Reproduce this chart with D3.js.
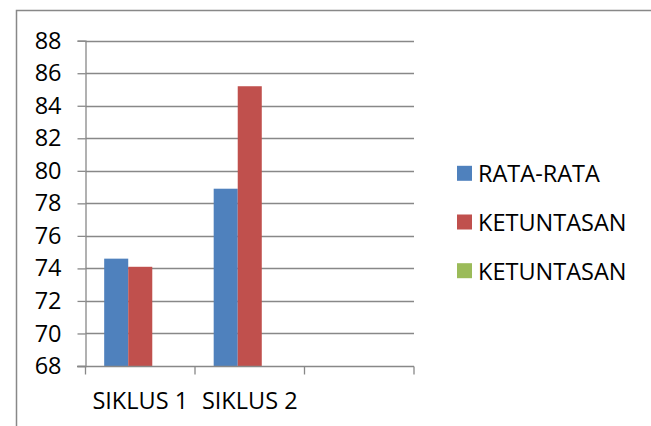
<!DOCTYPE html>
<html>
<head>
<meta charset="utf-8">
<script src="https://cdn.jsdelivr.net/npm/d3@7"></script>
<style>
  body { margin: 0; background: #fff; }
  svg { display: block; }
  text { font-family: 'Open Sans', sans-serif; fill: #000; }
</style>
</head>
<body>
<script>
const categories = ['SIKLUS 1', 'SIKLUS 2', '']
const seriesNames = ['RATA-RATA', 'KETUNTASAN', 'KETUNTASAN']
const rataRata = [74.6, 78.9, null]
const ketuntasan = [74.1, 85.2, null]
const ketuntasan2 = [null, null, null]
const yTicks = [68, 70, 72, 74, 76, 78, 80, 82, 84, 86, 88]
const colors = ['#4f81bd', '#c0504d', '#9bbb59']

const WIDTH = 651
const HEIGHT = 426
const FONT = 23.5
const GRID = '#888'

const series = [rataRata, ketuntasan, ketuntasan2]

const svg = d3.select('body').append('svg')
  .attr('width', WIDTH)
  .attr('height', HEIGHT)

// chart frame (only top and left edges visible)
svg.append('path')
  .attr('d', `M16.5,${HEIGHT} V10.5 H${WIDTH}`)
  .attr('fill', 'none')
  .attr('stroke', GRID)
  .attr('stroke-width', 1.5)

const x = d3.scaleBand()
  .domain(categories.map((d, i) => i))
  .range([85.5, 414])

const xs = d3.scaleBand()
  .domain(d3.range(series.length))
  .range([0, x.bandwidth()])
  .paddingOuter(0.777)

const y = d3.scaleLinear()
  .domain([68, 88])
  .range([366, 40.7])

// gridlines + left axis
const leftAxis = svg.append('g')
  .attr('transform', 'translate(85.5,0)')
  .call(d3.axisLeft(y).tickValues(yTicks).tickSize(8).tickPadding(16))
leftAxis.select('.domain').attr('stroke', GRID).attr('stroke-width', 1.3)
leftAxis.selectAll('.tick line').attr('stroke', GRID).attr('stroke-width', 1.3)
leftAxis.selectAll('.tick text')
  .attr('font-size', FONT)
  .attr('font-family', "'Open Sans', sans-serif")
  .attr('fill', '#000')

svg.append('g')
  .selectAll('line')
  .data(yTicks.filter(d => d !== 68))
  .enter()
  .append('line')
  .attr('x1', 85.5)
  .attr('x2', 414)
  .attr('y1', d => Math.round(y(d)) + 0.5)
  .attr('y2', d => Math.round(y(d)) + 0.5)
  .attr('stroke', GRID)
  .attr('stroke-width', 1.3)

// bars
categories.forEach((c, i) => {
  series.forEach((s, j) => {
    if (s[i] == null) return
    svg.append('rect')
      .attr('x', x(i) + xs(j))
      .attr('y', y(s[i]))
      .attr('width', xs.bandwidth())
      .attr('height', y(68) - y(s[i]))
      .attr('fill', colors[j])
  })
})

// bottom axis
const bottomAxis = svg.append('g')
  .attr('transform', `translate(0,${Math.round(y(68)) + 0.5})`)
bottomAxis.append('line')
  .attr('x1', 77)
  .attr('x2', 414)
  .attr('stroke', GRID)
  .attr('stroke-width', 1.3)
bottomAxis.selectAll('line.tick')
  .data(d3.range(categories.length + 1))
  .enter()
  .append('line')
  .attr('class', 'tick')
  .attr('x1', d => 85.5 + d * x.step())
  .attr('x2', d => 85.5 + d * x.step())
  .attr('y1', 0)
  .attr('y2', 8)
  .attr('stroke', GRID)
  .attr('stroke-width', 1.3)
bottomAxis.selectAll('text')
  .data(categories)
  .enter()
  .append('text')
  .attr('x', (d, i) => x(i) + x.bandwidth() / 2)
  .attr('y', 42)
  .attr('text-anchor', 'middle')
  .attr('font-size', FONT)
  .text(d => d)

// legend
const legend = svg.append('g')
  .selectAll('g')
  .data(seriesNames)
  .enter()
  .append('g')
  .attr('transform', (d, i) => `translate(457,${173.3 + i * 48.7})`)
legend.append('rect')
  .attr('x', 0)
  .attr('y', -7.5)
  .attr('width', 15)
  .attr('height', 15)
  .attr('fill', (d, i) => colors[i])
legend.append('text')
  .attr('x', 21)
  .attr('y', 9)
  .attr('font-size', FONT)
  .text(d => d)
</script>
</body>
</html>
